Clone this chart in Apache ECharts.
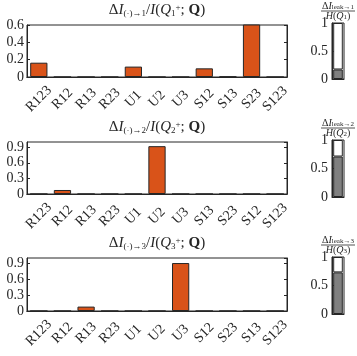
<!DOCTYPE html>
<html>
<head>
<meta charset="utf-8">
<script src="https://cdn.jsdelivr.net/npm/echarts@6/dist/echarts.min.js"></script>
<style>
html, body { margin: 0; padding: 0; background: #fff; }
#main { width: 357px; height: 356px; }
</style>
</head>
<body>
<div id="main"></div>
<script>
// category orders of the three panels
var cats1 = ["R123", "R12", "R13", "R23", "U1", "U2", "U3", "S12", "S13", "S23", "S123"];
var cats2 = ["R123", "R12", "R13", "R23", "U1", "U2", "U3", "S13", "S23", "S12", "S123"];
var cats3 = ["R123", "R12", "R13", "R23", "U1", "U2", "U3", "S12", "S23", "S13", "S123"];
// information gain per source
var vals1 = [0.165, 0, 0, 0, 0.12, 0, 0, 0.10, 0.005, 0.62, 0];
var vals2 = [0, 0.077, 0, 0, 0, 0.92, 0, 0, 0, 0, 0];
var vals3 = [0, 0, 0.083, 0, 0, 0, 0.905, 0, 0, 0, 0];
// leak fractions (gray part of the small bars)
var leak = [0.17, 0.71, 0.73];

var FONT = "Liberation Serif";
var INK = "#262626";
var chart = echarts.init(document.getElementById("main"));

var bigGrids = [
	{ left: 27, top: 25, width: 260, height: 52 },
	{ left: 27, top: 142, width: 260, height: 52 },
	{ left: 27, top: 258, width: 260, height: 53 }
];
var smallGrids = [
	{ left: 332, top: 23, width: 12, height: 56 },
	{ left: 332, top: 140, width: 12, height: 57 },
	{ left: 332, top: 257, width: 12, height: 57 }
];
var allCats = [cats1, cats2, cats3];
var allVals = [vals1, vals2, vals3];
var yMax = [0.6, 1, 1];
var yStep = [0.2, 0.3, 0.3];

var grid = [], xAxis = [], yAxis = [], series = [], title = [], graphic = [];
var lineStyle = { color: INK, width: 1 };

function rt(size, extra) {
	return Object.assign({ fontFamily: FONT, fontSize: size, fontWeight: "normal", color: INK }, extra || {});
}

bigGrids.concat(smallGrids).forEach(function (g) {
	grid.push(Object.assign({ show: true, borderColor: INK, borderWidth: 1, backgroundColor: "#fff" }, g));
});

for (var i = 0; i < 3; i++) {
	var g = bigGrids[i];
	// bottom axis with labels
	xAxis.push({
		type: "category", gridIndex: i, data: allCats[i], position: "bottom",
		axisLine: { lineStyle: lineStyle },
		axisTick: { inside: true, alignWithLabel: true, length: 3, lineStyle: lineStyle },
		axisLabel: { rotate: 45, align: "center", verticalAlign: "middle", margin: 22, interval: 0,
			fontFamily: FONT, fontSize: 14, color: INK }
	});
	// top axis, ticks only
	xAxis.push({
		type: "category", gridIndex: i, data: allCats[i], position: "top",
		axisLine: { lineStyle: lineStyle },
		axisTick: { inside: true, alignWithLabel: true, length: 3, lineStyle: lineStyle },
		axisLabel: { show: false }
	});
	yAxis.push({
		type: "value", gridIndex: i, min: 0, max: yMax[i], interval: yStep[i], position: "left",
		splitLine: { show: false },
		axisLine: { show: true, lineStyle: lineStyle },
		axisTick: { show: true, inside: true, length: 3, lineStyle: lineStyle },
		axisLabel: { showMaxLabel: yMax[i] === 0.6, fontFamily: FONT, fontSize: 14, color: INK, margin: 3 }
	});
	yAxis.push({
		type: "value", gridIndex: i, min: 0, max: yMax[i], interval: yStep[i], position: "right",
		splitLine: { show: false },
		axisLine: { show: true, lineStyle: lineStyle },
		axisTick: { show: true, inside: true, length: 3, lineStyle: lineStyle },
		axisLabel: { show: false }
	});
	series.push({
		type: "bar", xAxisIndex: 2 * i, yAxisIndex: 2 * i, data: allVals[i], barWidth: "73%",
		itemStyle: { color: "#D95319", borderColor: INK, borderWidth: 1 }
	});
	title.push({
		left: g.left + g.width / 2, top: g.top - 22, textAlign: "center", padding: 0,
		text: "{d|Δ}{i|I}{s|(·)→" + (i + 1) + "}{r|/}{i|I}{r|(}{i|Q}{s|" + (i + 1) + "}{p|+}{r|; }{b|Q}{r|)}",
		textStyle: {
			fontWeight: "normal",
			rich: {
				d: rt(15),
				i: rt(15, { fontStyle: "italic" }),
				r: rt(15),
				b: rt(15, { fontWeight: "bold" }),
				s: rt(9, { padding: [6, 0, 0, 0] }),
				p: rt(9, { padding: [0, 0, 6, 0] })
			}
		}
	});
}

for (var j = 0; j < 3; j++) {
	// small leak bars
	var sg = smallGrids[j];
	xAxis.push({
		type: "category", gridIndex: 3 + j, data: [""],
		axisLine: { lineStyle: lineStyle }, axisTick: { show: false }, axisLabel: { show: false }
	});
	yAxis.push({
		type: "value", gridIndex: 3 + j, min: 0, max: 1, interval: 0.5,
		splitLine: { show: false },
		axisLine: { show: true, lineStyle: lineStyle },
		axisTick: { show: true, inside: true, length: 2, lineStyle: lineStyle },
		axisLabel: { fontFamily: FONT, fontSize: 14, color: INK, margin: 4 }
	});
	var ax = xAxis.length - 1, ay = yAxis.length - 1;
	series.push({
		type: "bar", stack: "s" + j, xAxisIndex: ax, yAxisIndex: ay, data: [leak[j]], barWidth: "80%",
		itemStyle: { color: "#808080", borderColor: INK, borderWidth: 1 }
	});
	series.push({
		type: "bar", stack: "s" + j, xAxisIndex: ax, yAxisIndex: ay, data: [1 - leak[j]], barWidth: "80%",
		itemStyle: { color: "#ffffff", borderColor: INK, borderWidth: 1 }
	});
	title.push({
		left: sg.left + sg.width / 2, top: sg.top - 22, textAlign: "center", padding: 0,
		text: "{d|Δ}{i|I}{s|leak→" + (j + 1) + "}\n{i|H}{r|(}{i|Q}{s|" + (j + 1) + "}{r|)}",
		textStyle: {
			fontWeight: "normal",
			lineHeight: 10,
			rich: {
				d: rt(10, { lineHeight: 10 }),
				i: rt(10, { fontStyle: "italic", lineHeight: 10 }),
				r: rt(10, { lineHeight: 10 }),
				s: rt(7, { lineHeight: 10, padding: [3, 0, 0, 0] })
			}
		}
	});
	graphic.push({
		type: "line", shape: { x1: sg.left - 11, y1: sg.top - 12, x2: sg.left + 23, y2: sg.top - 12 },
		style: { stroke: INK, lineWidth: 0.8 }
	});
}

chart.setOption({
	animation: false,
	backgroundColor: "#fff",
	title: title,
	grid: grid,
	xAxis: xAxis,
	yAxis: yAxis,
	series: series,
	graphic: graphic
});
</script>
</body>
</html>
